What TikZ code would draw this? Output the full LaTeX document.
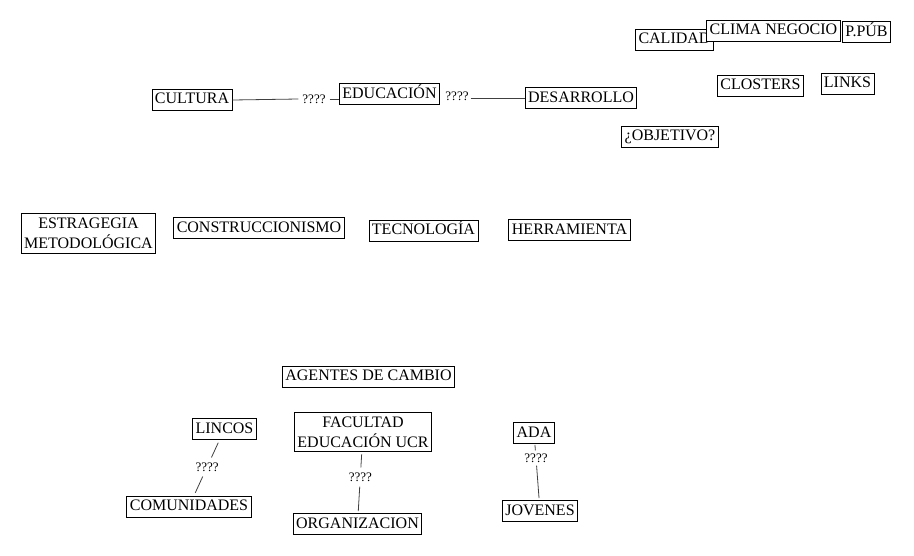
\documentclass[tikz,border=0pt]{standalone}
\usepackage{fontspec}
\setmainfont{Liberation Serif}
\usetikzlibrary{calc}
\begin{document}
\begin{tikzpicture}[x=1pt,y=-1pt,
  boxbase/.style={draw=black,line width=0.9pt,fill=white},
  box/.style={boxbase,font=\fontsize{16}{18}\selectfont,
    inner xsep=3pt,inner ysep=3pt,text height=11.5pt,text depth=3.5pt},
  boxtwo/.style={boxbase,align=center,inner xsep=3pt,inner ysep=4.5pt,
    font=\fontsize{16}{20}\selectfont},
  qq/.style={font=\fontsize{13}{15}\selectfont,inner xsep=4pt,inner ysep=5pt},
  link/.style={draw=black!75,line width=0.8pt}]
\useasboundingbox (0,0) rectangle (914,555);
% top row
\node[box] (cultura) at (192,99.5) {CULTURA};
\node[box] (educacion) at (389.5,94) {EDUCACIÓN};
\node[box] (desarrollo) at (581,98) {DESARROLLO};
\node[qq] (q1) at (314,99) {????};
\node[qq,inner xsep=2pt] (q2) at (457,96) {????};
\draw[link] (cultura.east |- 0,100) -- (q1.west |- 0,99);
\draw[link] (q1.east |- 0,99) -- (educacion.west |- 0,99);
\draw[link] (q2.east |- 0,98) -- (desarrollo.west |- 0,98);
% right cluster
\node[box] (calidad) at (674.5,39.5) {CALIDAD};
\node[box] (clima) at (773.5,30.5) {CLIMA NEGOCIO};
\node[box] (ppub) at (866.5,32) {P.PÚB};
\node[box] (closters) at (760.5,85.5) {CLOSTERS};
\node[box] (links) at (847.5,83.5) {LINKS};
\node[box] (objetivo) at (670,136.5) {¿OBJETIVO?};
% middle row
\node[boxtwo] (estrategia) at (88.5,233.5) {ESTRAGEGIA\\METODOLÓGICA};
\node[box] (constru) at (259,228) {CONSTRUCCIONISMO};
\node[box] (tecno) at (423.5,230.5) {TECNOLOGÍA};
\node[box] (herra) at (569.5,230) {HERRAMIENTA};
% bottom
\node[box] (agentes) at (368.5,376.5) {AGENTES DE CAMBIO};
\node[box] (lincos) at (224.5,429) {LINCOS};
\node[boxtwo] (facultad) at (363,432) {FACULTAD\\EDUCACIÓN UCR};
\node[box] (ada) at (534,433) {ADA};
\node[box] (comunidades) at (189,506.5) {COMUNIDADES};
\node[box] (organizacion) at (357.5,524) {ORGANIZACION};
\node[box] (jovenes) at (540,511) {JOVENES};
\node[qq] (q3) at ($(lincos)!0.49!(comunidades)$) {????};
\node[qq] (q4) at (360.3,477) {????};
\node[qq,inner ysep=3pt] (q5) at (536,458) {????};
\draw[link,shorten <=3pt] (lincos) -- (q3);
\draw[link,shorten >=3pt] (q3) -- (comunidades);
\draw[link,shorten <=2pt] (facultad) -- (q4);
\draw[link,shorten >=2pt] (q4) -- (organizacion);
\draw[link,shorten <=1pt] (ada) -- (q5);
\draw[link,shorten >=2pt] (q5) -- (jovenes);
\end{tikzpicture}
\end{document}
